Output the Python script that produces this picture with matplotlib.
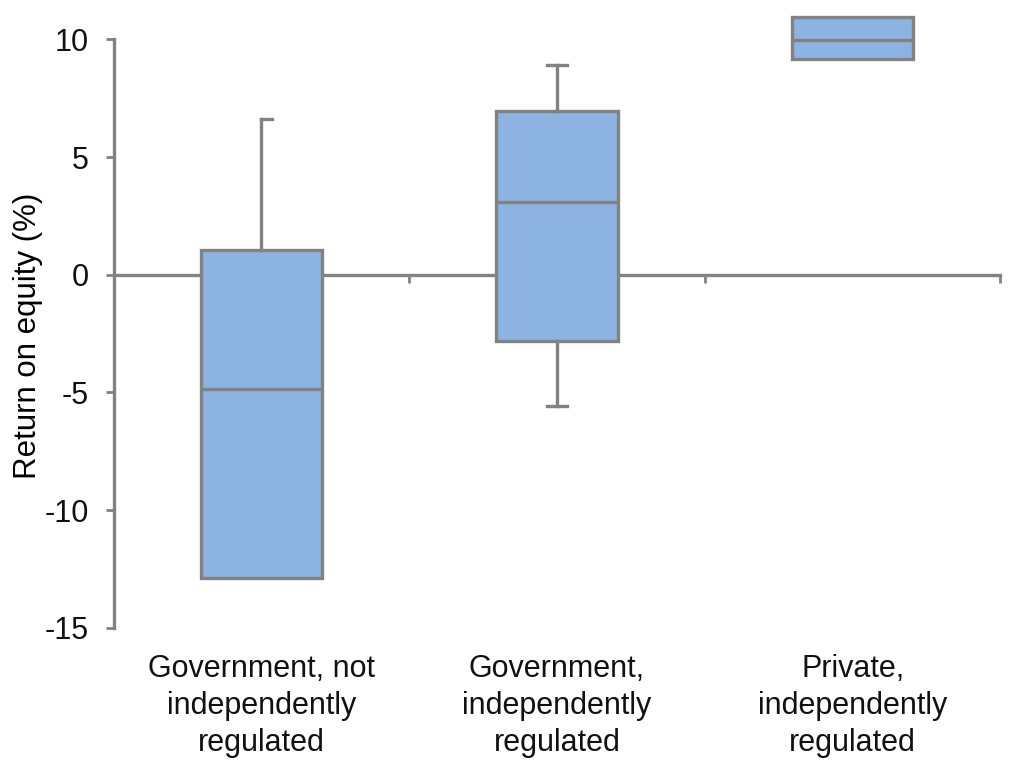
import matplotlib.pyplot as plt
from matplotlib.transforms import blended_transform_factory

plt.rcParams['font.family'] = ['Liberation Sans', 'DejaVu Sans']

categories = ['Government, not\nindependently\nregulated',
              'Government,\nindependently\nregulated',
              'Private,\nindependently\nregulated']
q1 = [-12.9, -2.8, 9.17]
med = [-4.84, 3.1, 9.98]
q3 = [1.06, 6.96, 10.96]
whislo = [-12.9, -5.56, 9.17]
whishi = [6.62, 8.92, 10.96]
yticks = [-15, -10, -5, 0, 5, 10]

GREY = '#828282'
FILL = '#8db3e3'

stats = []
for i in range(len(categories)):
    stats.append({'q1': q1[i], 'med': med[i], 'q3': q3[i],
                  'whislo': whislo[i], 'whishi': whishi[i], 'fliers': []})

fig = plt.figure(figsize=(10.24, 7.8), dpi=100)
ax = fig.add_axes([0.111, 0.195, 0.866, 0.805])

positions = [1, 2, 3]
lw = 2.4
bp = ax.bxp(stats, positions=positions, widths=0.41, patch_artist=True,
            showfliers=False, capwidths=0.07,
            boxprops=dict(facecolor=FILL, edgecolor=GREY, linewidth=lw, zorder=4),
            medianprops=dict(color=GREY, linewidth=lw, zorder=5),
            whiskerprops=dict(color=GREY, linewidth=lw, zorder=4),
            capprops=dict(color=GREY, linewidth=lw, zorder=4))

# first group: top cap only to the right, no bottom cap
bp['caps'][1].set_xdata([positions[0], positions[0] + 0.037])
bp['caps'][0].set_visible(False)
# third group: no whiskers
for k in (4, 5):
    bp['caps'][k].set_visible(False)
    bp['whiskers'][k].set_visible(False)

ax.set_xlim(0.5, 3.5)
ax.set_ylim(-15, 11.67)

for s in ['top', 'right']:
    ax.spines[s].set_visible(False)
ax.spines['bottom'].set_position(('data', 0))
ax.spines['left'].set_bounds(-15, 10)
for s in ['bottom', 'left']:
    ax.spines[s].set_color(GREY)
    ax.spines[s].set_linewidth(lw)
    ax.spines[s].set_zorder(2)

ax.set_yticks(yticks)
ax.set_yticklabels([str(t) for t in yticks])
ax.set_xticks([1.5, 2.5, 3.5])
ax.set_xticklabels([])
ax.tick_params(axis='both', direction='out', length=6, width=2, color=GREY)
ax.tick_params(axis='y', labelsize=22, pad=12, labelcolor='#111111')

ax.set_ylabel('Return on equity (%)', fontsize=22.5, va='center')
ax.yaxis.set_label_coords(-0.097, 0.465)

trans = blended_transform_factory(ax.transData, ax.transData)
for p, c in zip(positions, categories):
    ax.text(p, -16.1, c, transform=trans, ha='center', va='top',
            fontsize=22, linespacing=1.3, color='#111111')

fig.savefig('out.png', dpi=100)
